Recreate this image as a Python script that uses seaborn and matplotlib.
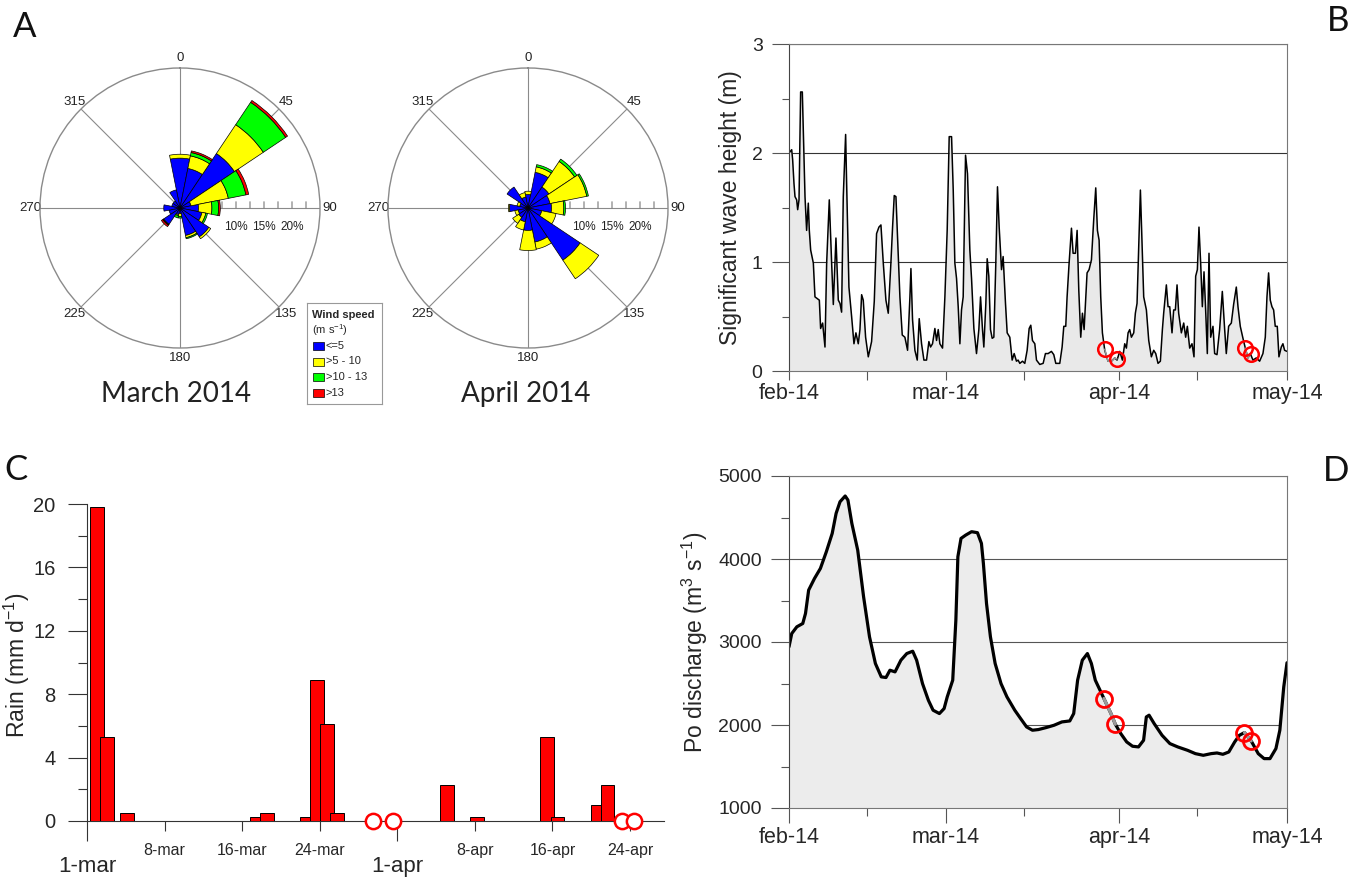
import numpy as np
import matplotlib
matplotlib.use("Agg")
import matplotlib.pyplot as plt
import seaborn as sns
from matplotlib.patches import Rectangle

# ---------------- wind roses: % frequency per 22.5 deg sector (clockwise from N)
sector_deg = [0, 22.5, 45, 67.5, 90, 112.5, 135, 157.5,
              180, 202.5, 225, 247.5, 270, 292.5, 315, 337.5]
speed_classes = ["<=5", ">5 - 10", ">10 - 13", ">13"]
speed_colors = ["#0000ff", "#ffff00", "#00ff00", "#ff0000"]

mar_le5 = [8.9, 7.2, 11.7, 2.0, 3.3, 4.0, 6.2, 5.0, 1.0, 1.2, 3.5, 2.0, 2.9, 1.5, 1.5, 3.3]
mar_5_10 = [0.7, 2.3, 6.2, 6.8, 2.4, 0.7, 0.4, 0.4, 0.5, 0.2, 0.1, 0.0, 0.0, 0.0, 0.0, 0.0]
mar_10_13 = [0.0, 0.6, 4.8, 3.2, 1.2, 0.3, 0.0, 0.2, 0.3, 0.4, 0.1, 0.0, 0.0, 0.0, 0.0, 0.0]
mar_gt13 = [0.0, 0.3, 0.4, 0.5, 0.3, 0.0, 0.0, 0.0, 0.0, 0.0, 0.3, 0.0, 0.0, 0.0, 0.0, 0.0]

apr_le5 = [2.4, 6.5, 4.5, 4.0, 4.2, 2.5, 11.2, 6.2, 4.0, 2.5, 2.0, 1.8, 3.3, 1.5, 4.5, 2.0]
apr_5_10 = [0.6, 1.0, 5.5, 6.7, 2.2, 2.6, 4.0, 1.3, 3.6, 1.5, 1.3, 0.6, 0.2, 0.5, 0.0, 0.8]
apr_10_13 = [0.0, 0.4, 0.5, 0.3, 0.3, 0.0, 0.0, 0.0, 0.0, 0.0, 0.0, 0.0, 0.0, 0.0, 0.0, 0.0]
apr_gt13 = [0.0] * 16

rose_titles = ["March 2014", "April 2014"]

# ---------------- significant wave height (days since 1 Feb 2014, m)
wave_day = [
    0.00, 0.48, 0.65, 0.89, 1.07, 1.37, 1.55, 1.79, 2.08, 2.38,
    2.68, 2.86, 3.15, 3.45, 3.63, 3.87, 4.35, 4.64, 5.42, 5.65,
    6.01, 6.43, 6.73, 7.20, 7.62, 7.92, 8.39, 8.81, 9.11, 9.40,
    9.70, 10.12, 10.30, 10.71, 11.19, 11.61, 11.96, 12.38, 12.68, 12.98,
    13.27, 13.69, 14.17, 14.76, 15.24, 15.65, 16.07, 16.43, 16.85, 17.32,
    17.74, 18.21, 18.51, 18.81, 19.11, 19.35, 19.82, 20.24, 20.71, 21.19,
    21.61, 21.79, 22.08, 22.50, 22.92, 23.27, 23.69, 24.11, 24.58, 25.00,
    25.30, 25.65, 26.07, 26.37, 26.67, 26.96, 27.44, 27.86, 28.27, 28.63,
    29.05, 29.35, 29.64, 29.94, 30.24, 30.54, 30.83, 31.13, 31.55, 31.90,
    32.32, 32.62, 33.04, 33.51, 33.93, 34.23, 34.58, 34.82, 35.18, 35.42,
    35.71, 36.01, 36.31, 36.61, 36.96, 37.26, 37.56, 37.98, 38.27, 38.69,
    38.99, 39.46, 39.88, 40.24, 40.65, 40.95, 41.25, 41.73, 42.14, 42.56,
    42.92, 43.21, 43.51, 43.93, 44.23, 44.82, 45.42, 45.83, 46.31, 46.90,
    47.32, 47.68, 48.39, 48.81, 49.11, 49.46, 49.70, 50.06, 50.48, 50.77,
    51.19, 51.49, 51.79, 52.14, 52.44, 52.74, 53.04, 53.27, 53.63, 54.05,
    54.46, 54.82, 55.12, 55.42, 55.71, 56.01, 56.43, 57.02, 57.62, 58.21,
    58.63, 59.11, 59.58, 60.00, 60.30, 60.60, 60.89, 61.19, 61.61, 61.90,
    62.20, 62.50, 62.80, 63.10, 63.39, 63.87, 64.29, 64.76, 65.18, 65.54,
    65.95, 66.37, 66.73, 66.96, 67.44, 67.74, 68.04, 68.45, 68.75, 69.05,
    69.35, 69.64, 70.12, 70.54, 70.89, 71.19, 71.61, 72.02, 72.38, 72.68,
    72.98, 73.27, 73.57, 73.87, 74.17, 74.46, 74.76, 75.06, 75.36, 75.77,
    76.07, 76.49, 76.96, 77.44, 77.86, 78.15, 78.57, 79.05, 79.46, 79.94,
    80.24, 80.65, 81.13, 81.55, 82.02, 82.44, 82.92, 83.51, 84.11, 84.70,
    85.12, 85.42, 85.71, 86.01, 86.31, 86.61, 86.90, 87.26, 87.56, 87.98,
    88.27, 88.57, 89.00]
wave_hs = [
    2.00, 2.03, 1.94, 1.72, 1.60, 1.57, 1.48, 1.57, 2.56, 2.56,
    1.97, 1.60, 1.29, 1.54, 1.29, 1.11, 0.99, 0.68, 0.65, 0.39,
    0.44, 0.22, 0.99, 1.57, 0.99, 0.61, 1.22, 0.65, 0.62, 0.54,
    1.60, 2.17, 1.72, 0.77, 0.50, 0.25, 0.35, 0.25, 0.38, 0.70,
    0.65, 0.31, 0.13, 0.27, 0.64, 1.26, 1.32, 1.34, 0.99, 0.65,
    0.53, 0.99, 1.32, 1.61, 1.60, 1.29, 0.68, 0.33, 0.31, 0.19,
    0.68, 0.94, 0.47, 0.19, 0.10, 0.48, 0.25, 0.10, 0.10, 0.27,
    0.22, 0.25, 0.39, 0.28, 0.38, 0.25, 0.21, 0.68, 1.29, 2.15,
    2.15, 1.66, 0.99, 0.85, 0.59, 0.25, 0.56, 0.68, 1.98, 1.81,
    1.11, 0.85, 0.39, 0.16, 0.38, 0.68, 0.38, 0.22, 0.62, 1.03,
    0.87, 0.38, 0.30, 0.31, 0.99, 1.69, 1.32, 0.93, 1.05, 0.62,
    0.35, 0.31, 0.10, 0.16, 0.09, 0.10, 0.07, 0.09, 0.07, 0.19,
    0.39, 0.42, 0.28, 0.25, 0.10, 0.06, 0.07, 0.16, 0.16, 0.18,
    0.15, 0.07, 0.07, 0.22, 0.41, 0.41, 0.68, 0.99, 1.31, 1.08,
    1.08, 1.29, 0.74, 0.31, 0.53, 0.38, 0.68, 0.90, 0.93, 1.02,
    1.39, 1.68, 1.29, 1.20, 0.68, 0.35, 0.19, 0.09, 0.09, 0.12,
    0.10, 0.18, 0.10, 0.25, 0.21, 0.35, 0.38, 0.31, 0.35, 0.53,
    0.62, 1.14, 1.66, 1.17, 0.68, 0.56, 0.28, 0.13, 0.19, 0.16,
    0.07, 0.09, 0.38, 0.53, 0.79, 0.59, 0.59, 0.35, 0.56, 0.56,
    0.79, 0.53, 0.35, 0.44, 0.31, 0.41, 0.21, 0.25, 0.13, 0.87,
    0.93, 1.32, 0.99, 0.59, 0.91, 0.56, 0.16, 1.08, 0.31, 0.41,
    0.16, 0.15, 0.38, 0.73, 0.38, 0.16, 0.41, 0.44, 0.61, 0.77,
    0.59, 0.41, 0.30, 0.21, 0.12, 0.16, 0.10, 0.12, 0.09, 0.16,
    0.31, 0.68, 0.90, 0.65, 0.59, 0.56, 0.41, 0.41, 0.13, 0.22,
    0.25, 0.19, 0.18]
wave_sample_day = [56.43, 58.63, 81.55, 82.50]
wave_sample_hs = [0.20, 0.11, 0.21, 0.16]

# ---------------- daily rain (days since 1 Mar 2014, mm/d)
rain_day = [1, 2, 4, 17, 18, 22, 23, 24, 25, 36, 39, 46, 47, 51, 52]
rain_mm = [19.8, 5.3, 0.5, 0.25, 0.5, 0.25, 8.9, 6.1, 0.5, 2.27, 0.25, 5.3, 0.25, 1.0, 2.3]
rain_sample_day = [28.55, 30.55, 53.5, 54.7]
rain_tick_day = [0, 7.75, 15.5, 23.25, 31, 38.75, 46.5, 54.25]
rain_tick_label = ["1-mar", "8-mar", "16-mar", "24-mar", "1-apr", "8-apr", "16-apr", "24-apr"]

# ---------------- Po river discharge (days since 1 Feb 2014, m3/s)
po_day = [
    0.00, 0.49, 1.40, 2.46, 2.95, 3.51, 4.56, 5.61, 6.67, 7.72,
    8.42, 9.12, 10.04, 10.53, 11.23, 12.28, 13.33, 14.39, 15.44, 16.49,
    17.33, 18.04, 18.95, 20.00, 21.05, 22.11, 22.81, 23.86, 24.91, 25.75,
    26.88, 27.72, 28.28, 29.26, 29.82, 30.18, 30.74, 31.58, 32.63, 33.68,
    34.39, 34.74, 35.30, 36.00, 36.84, 37.89, 38.95, 40.35, 41.40, 42.46,
    43.51, 44.56, 45.96, 47.37, 48.77, 50.18, 50.88, 51.58, 52.42, 53.33,
    54.04, 54.74, 56.28, 57.54, 58.32, 59.30, 60.35, 61.40, 62.46, 63.37,
    63.86, 64.35, 65.26, 66.67, 68.07, 69.47, 71.23, 72.63, 74.04, 75.44,
    76.49, 77.54, 78.60, 79.65, 80.49, 81.40, 82.60, 83.86, 84.91, 85.96,
    87.02, 87.72, 88.42, 89.00]
po_q = [
    2942, 3102, 3183, 3223, 3344, 3625, 3766, 3886, 4087, 4308,
    4550, 4690, 4759, 4710, 4429, 4107, 3545, 3062, 2741, 2580,
    2572, 2660, 2640, 2781, 2861, 2889, 2781, 2499, 2298, 2178,
    2138, 2198, 2339, 2540, 3263, 4027, 4248, 4288, 4329, 4317,
    4188, 3947, 3464, 3062, 2741, 2499, 2339, 2178, 2077, 1977,
    1937, 1945, 1969, 1997, 2037, 2049, 2138, 2540, 2781, 2861,
    2741, 2540, 2319, 2138, 2009, 1896, 1796, 1744, 1736, 1816,
    2097, 2118, 2017, 1876, 1776, 1736, 1695, 1655, 1635, 1655,
    1663, 1647, 1675, 1796, 1876, 1909, 1808, 1655, 1595, 1595,
    1716, 1937, 2459, 2750]
po_sample_day = [56.28, 58.32, 81.40, 82.60]
po_sample_q = [2319, 2009, 1909, 1808]

month_day = [0, 28, 59, 89]
month_label = ["feb-14", "mar-14", "apr-14", "may-14"]
mid_month_day = [14, 42, 73]

# ---------------- style
sns.set_theme(style="white")
plt.rcParams["font.family"] = ["Liberation Sans", "DejaVu Sans"]
plt.rcParams["mathtext.fontset"] = "custom"
plt.rcParams["mathtext.rm"] = "Liberation Sans"
plt.rcParams["mathtext.it"] = "Liberation Sans:italic"
plt.rcParams["mathtext.bf"] = "Liberation Sans:bold"

W, H = 1369, 881
fig = plt.figure(figsize=(W / 100, H / 100), dpi=100)
fig.patch.set_facecolor("white")


def rect(left, top, right, bottom):
    return [left / W, 1 - bottom / H, (right - left) / W, (bottom - top) / H]


SPINE = "#555555"
LETTER_FONT = ["Lato", "DejaVu Sans"]


def draw_rose(ax, layers):
    ax.set_theta_zero_location("N")
    ax.set_theta_direction(-1)
    ax.set_axisbelow(True)
    theta = np.deg2rad(sector_deg)
    width = np.deg2rad(22.5)
    base = np.zeros(len(sector_deg))
    for vals, col in zip(layers, speed_colors):
        vals = np.asarray(vals, dtype=float)
        m = vals > 0
        ax.bar(theta[m], vals[m], width=width, bottom=base[m], color=col,
               edgecolor="black", linewidth=0.5, zorder=3)
        base = base + vals
    ax.set_ylim(0, 25)
    ax.set_yticks([])
    ax.set_xticks(np.deg2rad(np.arange(0, 360, 45)))
    ax.set_xticklabels([str(a) for a in range(0, 360, 45)], fontsize=9.5, color="#222222")
    ax.set_xticks(np.deg2rad(np.arange(0, 360, 15)), minor=True)
    ax.tick_params(axis="x", which="major", length=0, pad=0)
    ax.tick_params(axis="x", which="minor", direction="in", length=5, width=0.8, color="#8a8a8a")
    ax.xaxis.grid(True, which="major", color="#8a8a8a", lw=0.8)
    ax.yaxis.grid(False)
    ax.spines["polar"].set_color("#8a8a8a")
    ax.spines["polar"].set_linewidth(1.0)
    # scale ticks and labels along the east spoke
    for r in np.arange(2.5, 25, 2.5):
        ax.annotate("", xy=(np.pi / 2, r), xytext=(0, 4.5), textcoords="offset points",
                    arrowprops=dict(arrowstyle="-", color="#777777", lw=0.8,
                                    shrinkA=0, shrinkB=0), zorder=1)
    for r in (10, 15, 20):
        ax.annotate(f"{r}%", xy=(np.pi / 2, r), xytext=(0, -14), textcoords="offset points",
                    ha="center", va="center", fontsize=8.5, color="#222222")


axM = fig.add_axes(rect(40, 68, 320, 348), projection="polar")
draw_rose(axM, [mar_le5, mar_5_10, mar_10_13, mar_gt13])
axA = fig.add_axes(rect(388, 68, 668, 348), projection="polar")
draw_rose(axA, [apr_le5, apr_5_10, apr_10_13, apr_gt13])
for title, xc in zip(rose_titles, (176, 526)):
    fig.text(xc / W, 1 - 394 / H, title, ha="center", va="center", fontsize=20,
             family=LETTER_FONT, color="#222222")

# wind-speed key
lax = fig.add_axes(rect(307, 303, 382, 404))
lax.set_xlim(0, 75)
lax.set_ylim(101, 0)
lax.set_xticks([])
lax.set_yticks([])
for s in lax.spines.values():
    s.set_color("#999999")
    s.set_linewidth(0.8)
lax.text(5, 12, "Wind speed", fontsize=8, fontweight="bold", va="center")
lax.text(5, 27.5, "(m s$^{-1}$)", fontsize=8, va="center")
for i, (lab, col) in enumerate(zip(speed_classes, speed_colors)):
    yc = 43 + 15.5 * i
    lax.add_patch(Rectangle((5.5, yc - 4), 11, 8, facecolor=col, edgecolor="black", lw=0.5))
    lax.text(18.5, yc, lab, fontsize=8, va="center")

# ---------------- panel B: wave height
axB = fig.add_axes(rect(789, 44, 1287, 371))
axB.fill_between(wave_day, wave_hs, 0, color="#e9e9e9", lw=0)
sns.lineplot(x=wave_day, y=wave_hs, ax=axB, color="black", lw=1.1,
             estimator=None, sort=False)
for i in (0, 2):
    t0, t1 = wave_sample_day[i], wave_sample_day[i + 1]
    seg = [(d, v) for d, v in zip(wave_day, wave_hs) if t0 < d < t1]
    xs = [t0] + [d for d, _ in seg] + [t1]
    ys = [wave_sample_hs[i]] + [v for _, v in seg] + [wave_sample_hs[i + 1]]
    axB.plot(xs, ys, color="#9a9a9a", lw=1.1, zorder=4)
axB.plot(wave_sample_day, wave_sample_hs, "o", mfc="none", mec="red", ms=10.5, mew=1.8, zorder=5)
axB.set_xlim(0, 89)
axB.set_ylim(0, 3)
axB.set_yticks([0, 1, 2, 3])
axB.set_yticks([0.5, 1.5, 2.5], minor=True)
axB.set_xticks(month_day)
axB.set_xticklabels(month_label)
axB.set_xticks(mid_month_day, minor=True)
axB.yaxis.grid(True, which="major", color="#333333", lw=0.8)
axB.tick_params(axis="y", which="major", left=True, length=12, width=0.8, color=SPINE,
                labelsize=14, pad=7)
axB.tick_params(axis="y", which="minor", left=True, length=5, width=0.8, color=SPINE)
axB.tick_params(axis="x", which="both", bottom=True, length=6.5, width=0.8, color=SPINE,
                labelsize=15.5, pad=2)
for s in axB.spines.values():
    s.set_color("#777777")
    s.set_linewidth(0.8)
axB.spines["left"].set_color("#444444")
axB.set_xlabel("")
axB.set_ylabel("Significant wave height (m)", fontsize=16.5)
axB.yaxis.set_label_coords(-0.094, 0.5)

# ---------------- panel C: rain
axC = fig.add_axes(rect(87, 504, 663.5, 821))
axC.bar(rain_day, rain_mm, width=1.38, color="#ff0000", edgecolor="black", lw=0.7, zorder=3)
axC.plot(rain_sample_day, [0] * len(rain_sample_day), "o", mfc="white", mec="red",
         ms=11, mew=1.8, zorder=5, clip_on=False)
axC.set_xlim(0, 57.6)
axC.set_ylim(0, 20)
axC.set_yticks([0, 4, 8, 12, 16, 20])
axC.set_yticks([2, 6, 10, 14, 18], minor=True)
major_idx = [0, 4]
minor_idx = [i for i in range(len(rain_tick_day)) if i not in major_idx]
axC.set_xticks([rain_tick_day[i] for i in major_idx])
axC.set_xticklabels([rain_tick_label[i] for i in major_idx])
axC.set_xticks([rain_tick_day[i] for i in minor_idx], minor=True)
axC.set_xticklabels([rain_tick_label[i] for i in minor_idx], minor=True)
axC.tick_params(axis="x", which="major", bottom=True, length=14.5, width=0.8, color="#333333",
                labelsize=16, pad=11)
axC.tick_params(axis="x", which="minor", bottom=True, length=7, width=0.8, color="#333333",
                labelsize=11.5, pad=9)
axC.tick_params(axis="y", which="major", left=True, length=14, width=0.8, color="#333333",
                labelsize=14.5, pad=8.5)
axC.tick_params(axis="y", which="minor", left=True, length=6.5, width=0.8, color="#333333")
axC.spines["top"].set_visible(False)
axC.spines["right"].set_visible(False)
for side in ("left", "bottom"):
    axC.spines[side].set_color("#333333")
    axC.spines[side].set_linewidth(0.8)
axC.set_ylabel("Rain (mm d$^{-1}$)", fontsize=16.5)
axC.yaxis.set_label_coords(-0.096, 0.49)

# ---------------- panel D: Po discharge
axD = fig.add_axes(rect(789, 476, 1287, 808))
axD.fill_between(po_day, po_q, 1000, color="#ececec", lw=0)
sns.lineplot(x=po_day, y=po_q, ax=axD, color="black", lw=2.3, estimator=None, sort=False)
for i in (0, 2):
    t0, t1 = po_sample_day[i], po_sample_day[i + 1]
    seg = [(d, v) for d, v in zip(po_day, po_q) if t0 < d < t1]
    xs = [t0] + [d for d, _ in seg] + [t1]
    ys = [po_sample_q[i]] + [v for _, v in seg] + [po_sample_q[i + 1]]
    axD.plot(xs, ys, color="#9a9a9a", lw=2.3, zorder=4)
axD.plot(po_sample_day, po_sample_q, "o", mfc="none", mec="red", ms=11.5, mew=2, zorder=5)
axD.set_xlim(0, 89)
axD.set_ylim(1000, 5000)
axD.set_yticks([1000, 2000, 3000, 4000, 5000])
axD.set_yticks([1500, 2500, 3500, 4500], minor=True)
axD.set_xticks(month_day)
axD.set_xticklabels(month_label)
axD.set_xticks(mid_month_day, minor=True)
axD.yaxis.grid(True, which="major", color="#555555", lw=0.8)
axD.tick_params(axis="y", which="major", left=True, length=13, width=0.8, color=SPINE,
                labelsize=14, pad=6.5)
axD.tick_params(axis="y", which="minor", left=True, length=6, width=0.8, color=SPINE)
axD.tick_params(axis="x", which="major", bottom=True, length=11, width=0.8, color=SPINE,
                labelsize=15.5, pad=3)
axD.tick_params(axis="x", which="minor", bottom=True, length=6, width=0.8, color=SPINE)
for s in axD.spines.values():
    s.set_color("#777777")
    s.set_linewidth(0.8)
axD.spines["left"].set_color("#444444")
axD.set_xlabel("")
axD.set_ylabel("Po discharge (m$^{3}$ s$^{-1}$)", fontsize=16.5)
axD.yaxis.set_label_coords(-0.159, 0.5)

# ---------------- panel letters
for txt, x, y in (("A", 25, 27), ("B", 1338, 21), ("C", 16, 470), ("D", 1336, 471)):
    fig.text(x / W, 1 - y / H, txt, ha="center", va="center", fontsize=25,
             family=LETTER_FONT, color="#111111")

fig.savefig("out.png", dpi=100, facecolor="white")
